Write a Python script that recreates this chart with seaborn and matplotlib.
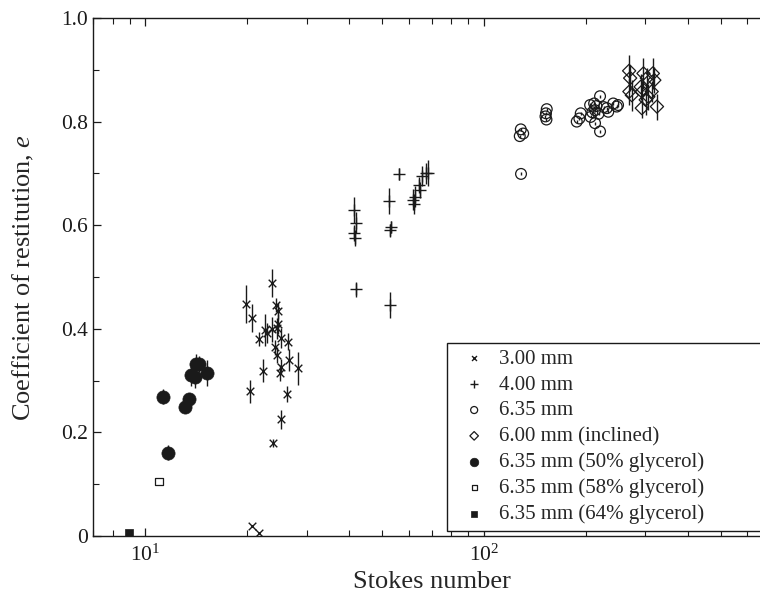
import numpy as np
import pandas as pd
import matplotlib
matplotlib.use("Agg")
import matplotlib.pyplot as plt
import seaborn as sns

# ---------------- data ----------------
st_3mm = [23.64, 19.77, 20.64, 24.36, 24.6, 21.63, 22.49, 22.9, 23.7, 24.5, 24.7, 25.07, 26.35,
          24.2, 24.5, 25.2, 25.0, 26.5, 28.2, 22.2, 20.3, 26.2, 25.2, 23.8, 20.6, 21.6]
e_3mm = [0.489, 0.448, 0.420, 0.446, 0.434, 0.380, 0.398, 0.392, 0.399, 0.401, 0.409, 0.382, 0.375,
         0.364, 0.349, 0.327, 0.315, 0.340, 0.324, 0.319, 0.279, 0.274, 0.225, 0.180, 0.019, 0.006]
err_3mm = [0.027, 0.037, 0.027, 0.013, 0.015, 0.014, 0.031, 0.02, 0.024, 0.02, 0.02, 0.02, 0.016,
           0.015, 0.015, 0.015, 0.015, 0.021, 0.032, 0.022, 0.022, 0.016, 0.018, 0.008, 0.0, 0.0]

st_4mm = [41.3, 41.8, 41.3, 41.5, 41.8, 52.5, 53.1, 52.8, 52.7, 56.0, 61.8, 62.4, 62.0, 64.4,
          64.6, 65.4, 67.4, 68.5]
e_4mm = [0.629, 0.605, 0.585, 0.575, 0.476, 0.647, 0.597, 0.590, 0.446, 0.699, 0.649, 0.655,
         0.641, 0.678, 0.668, 0.695, 0.700, 0.701]
err_4mm = [0.025, 0.02, 0.015, 0.015, 0.015, 0.025, 0.012, 0.012, 0.025, 0.012, 0.02, 0.02,
           0.02, 0.015, 0.015, 0.02, 0.02, 0.025]

st_635 = [128.7, 127.6, 130.6, 128.5, 153.3, 152.5, 153.0, 152.0, 193.2, 191.4, 188.0, 205.9,
          211.6, 212.9, 206.6, 212.9, 220.3, 220.3, 230.6, 233.0, 241.0, 246.8, 249.0, 215.0,
          218.0, 226.0, 209.0]
e_635 = [0.699, 0.772, 0.777, 0.785, 0.824, 0.816, 0.804, 0.810, 0.816, 0.806, 0.800, 0.832,
         0.835, 0.822, 0.809, 0.797, 0.849, 0.781, 0.826, 0.819, 0.835, 0.829, 0.832, 0.830,
         0.815, 0.828, 0.818]
err_635 = [0.003] * len(st_635)

st_600 = [268.5, 270.4, 269.0, 273.5, 296.0, 302.9, 290.4, 293.0, 300.5, 292.7, 306.0, 315.5,
          318.7, 313.0, 324.5]
e_600 = [0.898, 0.884, 0.858, 0.851, 0.893, 0.884, 0.867, 0.858, 0.842, 0.826, 0.848, 0.893,
         0.880, 0.858, 0.829]
err_600 = [0.03, 0.025, 0.025, 0.03, 0.03, 0.02, 0.025, 0.02, 0.03, 0.02, 0.025, 0.03, 0.025,
           0.02, 0.025]

st_g50 = [11.30, 11.64, 13.1, 13.49, 13.65, 14.03, 14.09, 14.42, 15.22]
e_g50 = [0.269, 0.161, 0.250, 0.264, 0.310, 0.306, 0.332, 0.332, 0.315]
err_g50 = [0.015, 0.015, 0.012, 0.01, 0.02, 0.02, 0.02, 0.015, 0.025]

st_g58 = [10.95]
e_g58 = [0.105]

st_g64 = [8.97]
e_g64 = [0.005]

labels = ["3.00 mm", "4.00 mm", "6.35 mm", "6.00 mm (inclined)",
          "6.35 mm (50% glycerol)", "6.35 mm (58% glycerol)", "6.35 mm (64% glycerol)"]
x_ticks = [10, 100]
y_ticks = [0, 0.2, 0.4, 0.6, 0.8, 1.0]
y_ticklabels = ["0", "0.2", "0.4", "0.6", "0.8", "1.0"]

# ---------------- style ----------------
sns.set_theme(style="ticks")
plt.rcParams["font.family"] = ["Liberation Serif", "DejaVu Serif"]
plt.rcParams["mathtext.fontset"] = "custom"
plt.rcParams["mathtext.rm"] = "Liberation Serif"
plt.rcParams["mathtext.it"] = "Liberation Serif:italic"
plt.rcParams["axes.edgecolor"] = "black"
plt.rcParams["axes.linewidth"] = 1.0

fig = plt.figure(figsize=(7.6, 5.92), dpi=100)
ax = fig.add_axes([93 / 760, 56 / 592, 677 / 760, 518 / 592])

series = [
    (st_3mm, e_3mm, err_3mm, dict(marker="x", s=30, color="k", linewidth=1.0)),
    (st_4mm, e_4mm, err_4mm, dict(marker="+", s=75, color="k", linewidth=1.0)),
    (st_635, e_635, err_635, dict(marker="o", s=60, facecolor="none", edgecolor="k", linewidth=0.9)),
    (st_600, e_600, err_600, dict(marker="D", s=45, facecolor="none", edgecolor="k", linewidth=0.9)),
    (st_g50, e_g50, err_g50, dict(marker="o", s=90, color="k", edgecolor="k", linewidth=0.5)),
    (st_g58, e_g58, None, dict(marker="s", s=30, facecolor="none", edgecolor="k", linewidth=0.9)),
    (st_g64, e_g64, None, dict(marker="s", s=40, color="k", edgecolor="k", linewidth=0.5)),
]

for (xs, ys, errs, kw), lab in zip(series, labels):
    df = pd.DataFrame({"St": xs, "e": ys})
    if errs is not None:
        ax.errorbar(xs, ys, yerr=errs, fmt="none", ecolor="k", elinewidth=1.0, capsize=0, zorder=1)
    sns.scatterplot(data=df, x="St", y="e", ax=ax, label=lab, zorder=2, **kw)

ax.set_xscale("log")
ax.set_xlim(7, 700)
ax.set_ylim(0, 1.0)
ax.set_yticks(y_ticks)
ax.set_yticklabels(y_ticklabels)
ax.set_yticks(np.arange(0.1, 1.0, 0.2), minor=True)
ax.set_xticks(x_ticks)
ax.tick_params(axis="both", which="both", direction="in", top=True, right=True,
               colors="k", labelsize=15.5)
ax.tick_params(axis="both", which="major", length=6, width=0.9)
ax.tick_params(axis="both", which="minor", length=4, width=0.8)
ax.tick_params(axis="x", which="major", pad=6)

ax.set_xlabel("Stokes number", fontsize=19, labelpad=4)
ax.set_ylabel("Coefficient of restitution, $e$", fontsize=19, labelpad=18)

for sp in ax.spines.values():
    sp.set_color("k")
    sp.set_linewidth(1.0)

leg = ax.legend(loc="upper left", bbox_to_anchor=(0.523, 0.0116, 0.477, 0.361),
                mode="expand", fontsize=15, frameon=True, fancybox=False,
                edgecolor="k", framealpha=1, borderpad=0.3, handlelength=2.0,
                handletextpad=0.2, labelspacing=0.3, markerscale=0.65,
                borderaxespad=0)
leg.get_frame().set_linewidth(1.0)

fig.savefig("out.png", dpi=100)
